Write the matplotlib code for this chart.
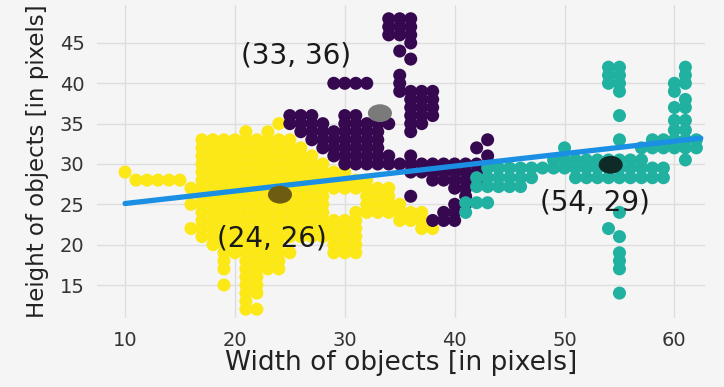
"""Object size clusters: width vs height with k-means centroids and a trend line."""

import matplotlib
import matplotlib.pyplot as plt
from matplotlib.path import Path
from matplotlib.transforms import Affine2D

matplotlib.use("Agg")

# Each cluster is listed row by row: (height, [widths at that height])
yellow_rows = [
    (35, [24]),
    (34, [21, 23]),
    (33, [17, 18, 19, 20, 21, 22, 23, 24, 25]),
    (32, [17, 18, 19, 20, 21, 22, 23, 24, 25, 26]),
    (31, [17, 18, 19, 20, 21, 22, 23, 24, 25, 26, 27]),
    (30, [17, 18, 19, 20, 21, 22, 23, 24, 25, 26, 27, 28]),
    (29, [10, 17, 18, 19, 20, 21, 22, 23, 24, 25, 26, 27, 28, 29, 30]),
    (28, [11, 12, 13, 14, 15, 17, 18, 19, 20, 21, 22, 23, 24, 25, 26, 27, 28, 29, 30, 31, 32]),
    (27, [16, 17, 18, 19, 20, 21, 22, 23, 24, 25, 26, 27, 28, 29, 30, 31, 32, 33, 34]),
    (26, [17, 18, 19, 20, 21, 22, 23, 24, 25, 26, 27, 28, 32, 33, 34]),
    (25, [16, 17, 18, 19, 20, 21, 22, 23, 24, 25, 26, 27, 28, 32, 33, 34, 35]),
    (24, [17, 18, 19, 20, 21, 22, 23, 24, 25, 26, 27, 28, 31, 32, 33, 34, 35, 36, 37]),
    (23, [17, 18, 19, 20, 21, 22, 23, 24, 25, 26, 27, 28, 29, 30, 31, 35, 36, 37]),
    (22, [16, 17, 18, 19, 20, 21, 22, 23, 24, 25, 26, 27, 28, 29, 30, 31, 37, 38]),
    (21, [17, 18, 19, 20, 21, 22, 23, 24, 25, 26, 27, 28, 29, 30, 31]),
    (20, [18, 19, 20, 21, 22, 23, 24, 29, 30, 31]),
    (19, [19, 20, 21, 22, 23, 24, 25, 29, 30, 31]),
    (18, [19, 21, 22, 23, 24]),
    (17, [19, 21, 22, 23, 24]),
    (16, [21, 22]),
    (15, [19, 21, 22]),
    (14, [21, 22]),
    (13, [21]),
    (12, [21, 22]),
]

purple_rows = [
    (48, [34, 35, 36]),
    (47, [34, 35, 36]),
    (46, [34, 35, 36]),
    (45, [36]),
    (44, [35]),
    (43, [36]),
    (41, [35]),
    (40, [29, 30, 31, 32, 35]),
    (39, [35, 36, 37, 38]),
    (38, [36, 37, 38]),
    (37, [36, 37, 38]),
    (36, [25, 26, 27, 30, 31, 36, 37, 38]),
    (35, [25, 26, 27, 28, 30, 31, 32, 33, 34, 36, 37]),
    (34, [26, 27, 28, 29, 30, 31, 32, 33, 36]),
    (33, [27, 28, 29, 30, 31, 32, 33, 43]),
    (32, [28, 29, 30, 31, 32, 33, 42]),
    (31, [29, 30, 31, 32, 33, 34, 36, 43]),
    (30, [30, 31, 32, 33, 34, 35, 36, 37, 38, 39, 40, 41, 42]),
    (29, [36, 37, 38, 39, 40, 41, 42]),
    (28, [38, 39, 40, 41, 42]),
    (27, [40, 41]),
    (26, [36, 41]),
    (25, [40, 41]),
    (24, [39, 40]),
    (23, [38, 39, 40]),
]

teal_rows = [
    (42, [54, 55, 61]),
    (41, [54, 55, 61]),
    (40, [54, 55, 60, 61]),
    (39, [55, 60]),
    (38, [61]),
    (37, [60, 61]),
    (36, [55]),
    (35.4, [60, 61]),
    (34.2, [60, 61]),
    (33, [55, 58, 59, 60, 61, 62]),
    (32, [50, 57, 58, 59, 60, 61, 62]),
    (30.5, [49, 50, 51, 52, 53, 54, 55, 56, 57, 61]),
    (29.5, [43, 44, 45, 46, 47, 48, 49, 50, 51, 52, 53, 54, 55, 56, 57, 58, 59]),
    (28.3, [42, 43, 44, 45, 46, 47, 51, 52, 53, 54, 55, 56, 57, 58, 59]),
    (27.2, [42, 43, 44, 45, 46]),
    (25.2, [41, 42, 43]),
    (24, [41, 55]),
    (22, [54]),
    (21, [55]),
    (19, [55]),
    (18, [55]),
    (17, [55]),
    (14, [55]),
]

# Cluster centroids and their labels
centroid_x = [24.1, 33.2, 54.2]
centroid_y = [26.2, 36.3, 29.9]
centroid_labels = ["(24, 26)", "(33, 36)", "(54, 29)"]
label_x = [23.4, 25.6, 52.8]
label_y = [20.8, 43.5, 25.2]

# Fitted trend line end points
trend_x = [10, 62.4]
trend_y = [25.1, 33.2]

x_ticks = [10, 20, 30, 40, 50, 60]
y_ticks = [15, 20, 25, 30, 35, 40, 45]


def flatten(rows):
    w, h = [], []
    for height, widths in rows:
        w += widths
        h += [height] * len(widths)
    return w, h


BG = "#f5f5f5"
fig = plt.figure(figsize=(7.24, 3.87), dpi=100)
fig.patch.set_facecolor(BG)
ax = fig.add_axes([0.134, 0.178, 0.840, 0.809])
ax.set_facecolor(BG)

for rows, color in [(yellow_rows, "#fbe816"), (purple_rows, "#36084f"), (teal_rows, "#20b1a1")]:
    w, h = flatten(rows)
    ax.scatter(w, h, s=88, color=color, edgecolors="none", zorder=2)

ax.plot(trend_x, trend_y, color="#1a8fe3", lw=3.8, solid_capstyle="round", zorder=3)

# centroids look slightly wider than tall in the original
ellipse = Path.unit_circle().transformed(Affine2D().scale(1.35, 1.0))
ax.scatter(centroid_x, centroid_y, s=300, marker=ellipse,
           color=["#6d5c12", "#7a7a7a", "#0f2b27"], edgecolors="none", zorder=4)

for lx, ly, txt in zip(label_x, label_y, centroid_labels):
    ax.text(lx, ly, txt, fontsize=20, color="#1a1a1a", ha="center", va="center", zorder=5)

ax.set_xlim(7.45, 62.8)
ax.set_ylim(10.9, 49.7)
ax.set_xticks(x_ticks)
ax.set_yticks(y_ticks)
ax.grid(True, color="#dedede", lw=1.0)
ax.set_axisbelow(True)
for side in ["top", "right", "bottom", "left"]:
    ax.spines[side].set_visible(False)
ax.tick_params(length=0, labelsize=14, colors="#333333")
ax.tick_params(axis="x", pad=9)
ax.tick_params(axis="y", pad=9)

ax.set_xlabel("Width of objects [in pixels]", fontsize=19, color="#222222", labelpad=0)
ax.set_ylabel("Height of objects [in pixels]", fontsize=16.5, color="#222222", labelpad=8)

fig.savefig("out.png", dpi=100, facecolor=fig.get_facecolor())
plt.close(fig)
